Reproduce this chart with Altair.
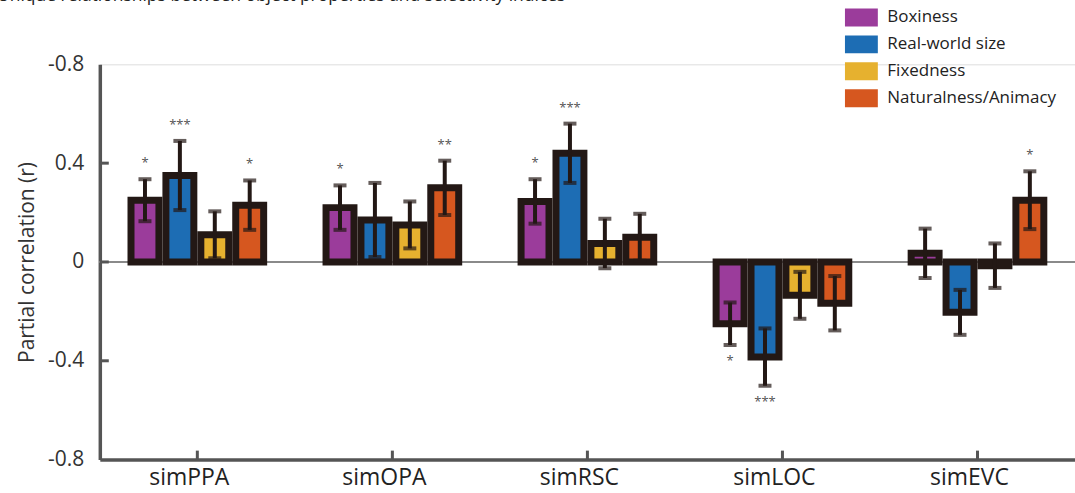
import altair as alt
import pandas as pd

# Regions of interest and object properties
regions = ["simPPA", "simOPA", "simRSC", "simLOC", "simEVC"]
properties = ["Boxiness", "Real-world size", "Fixedness", "Naturalness/Animacy"]
prop_colors = ["#9b3c9b", "#1d6db4", "#e6b12f", "#d6571f"]

# Partial correlations (one row per region, one column per property)
r_ppa = [0.25, 0.35, 0.11, 0.23]
r_opa = [0.22, 0.17, 0.15, 0.30]
r_rsc = [0.245, 0.44, 0.075, 0.10]
r_loc = [-0.25, -0.385, -0.135, -0.167]
r_evc = [0.035, -0.204, -0.015, 0.25]

# Standard errors
se_ppa = [0.085, 0.14, 0.095, 0.10]
se_opa = [0.09, 0.15, 0.095, 0.11]
se_rsc = [0.09, 0.12, 0.10, 0.095]
se_loc = [0.086, 0.116, 0.095, 0.11]
se_evc = [0.10, 0.091, 0.09, 0.117]

# Significance markers
sig_ppa = ["*", "***", "", "*"]
sig_opa = ["*", "", "", "**"]
sig_rsc = ["*", "***", "", ""]
sig_loc = ["*", "***", "", ""]
sig_evc = ["", "", "", "*"]

# Axis ticks and their printed labels
y_tick_values = [0.8, 0.4, 0.0, -0.4, -0.8]
y_tick_labels = ["-0.8", "0.4", "0", "-0.4", "-0.8"]

title_text = "Unique relationships between object properties and selectivity indices"

rows = []
for reg, rs, ses, sigs in zip(
    regions,
    [r_ppa, r_opa, r_rsc, r_loc, r_evc],
    [se_ppa, se_opa, se_rsc, se_loc, se_evc],
    [sig_ppa, sig_opa, sig_rsc, sig_loc, sig_evc],
):
    for prop, r, se, sig in zip(properties, rs, ses, sigs):
        rows.append({"region": reg, "property": prop, "r": r,
                     "lo": r - se, "hi": r + se, "sig": sig})
df = pd.DataFrame(rows)
ticks_df = pd.DataFrame({"v": [v for v in y_tick_values if abs(v) < 0.7]})
regions_df = pd.DataFrame({"region": regions})
title_df = pd.DataFrame({"t": [title_text]})

label_expr = " : ".join(
    f"abs(datum.value - ({v})) < 0.01 ? '{lab}'" for v, lab in zip(y_tick_values, y_tick_labels)
) + " : ''"

W, H = 977, 396
ink = "#231815"
axis_gray = "#555555"
font = "Open Sans"

x_scale = alt.Scale(domain=regions, paddingInner=0.284, paddingOuter=0.142)
y_scale = alt.Scale(domain=[-0.8, 0.8], nice=False, zero=False)
x_off = alt.XOffset("property:N", sort=properties,
                    scale=alt.Scale(paddingInner=0.2, paddingOuter=0.1))

x_enc = alt.X("region:N", sort=regions, scale=x_scale,
              axis=alt.Axis(title=None, labelAngle=0, ticks=False,
                            labelFontSize=23, labelColor="#222222", labelFont=font,
                            labelPadding=7, labelOffset=-8,
                            domainColor=axis_gray, domainWidth=3.5))
y_axis = alt.Axis(title="Partial correlation (r)", values=y_tick_values, labelExpr=label_expr,
                  ticks=False, grid=False, labelFontSize=21, labelColor="#333333",
                  labelFont=font, labelPadding=16, domainColor=axis_gray, domainWidth=3.5,
                  titleFontSize=21, titleFontWeight="normal", titleColor="#333333",
                  titleFont=font, titlePadding=10)

base = alt.Chart(df)

zero_line = base.mark_rule(color="#8a8a8a", strokeWidth=1.3).encode(
    y=alt.datum(0, scale=y_scale, axis=y_axis, type="quantitative")
)

bars = base.mark_bar(stroke=ink, strokeWidth=7, strokeJoin="miter").encode(
    x=x_enc,
    xOffset=x_off,
    y=alt.Y("r:Q", scale=y_scale, axis=y_axis),
    fill=alt.Fill("property:N", sort=properties,
                  scale=alt.Scale(domain=properties, range=prop_colors),
                  legend=alt.Legend(title=None, orient="none", legendX=754, legendY=-56,
                                    symbolType="M-1.83,-1H1.83V1H-1.83Z", symbolSize=324,
                                    symbolStrokeWidth=0, symbolOpacity=1,
                                    labelFontSize=17, labelColor="#222222", labelFont=font,
                                    labelOffset=17, labelLimit=400, rowPadding=9)),
)

stems = base.mark_rule(color=ink, strokeWidth=4).encode(
    x=alt.X("region:N", sort=regions, scale=x_scale),
    xOffset=x_off,
    y=alt.Y("lo:Q", scale=y_scale),
    y2="hi:Q",
)
cap_lo = base.mark_tick(color=ink, size=13, thickness=4, orient="horizontal").encode(
    x=alt.X("region:N", sort=regions, scale=x_scale),
    xOffset=x_off,
    y=alt.Y("lo:Q", scale=y_scale),
)
cap_hi = base.mark_tick(color=ink, size=13, thickness=4, orient="horizontal").encode(
    x=alt.X("region:N", sort=regions, scale=x_scale),
    xOffset=x_off,
    y=alt.Y("hi:Q", scale=y_scale),
)

stars_up = base.transform_filter("datum.r >= 0").mark_text(
    fontSize=13, color="#555555", font=font, baseline="middle", dy=-16
).encode(
    x=alt.X("region:N", sort=regions, scale=x_scale),
    xOffset=x_off,
    y=alt.Y("hi:Q", scale=y_scale),
    text="sig:N",
)
stars_down = base.transform_filter("datum.r < 0").mark_text(
    fontSize=13, color="#555555", font=font, baseline="middle", dy=16
).encode(
    x=alt.X("region:N", sort=regions, scale=x_scale),
    xOffset=x_off,
    y=alt.Y("lo:Q", scale=y_scale),
    text="sig:N",
)

# inward tick marks on both axes
y_ticks = alt.Chart(ticks_df).mark_rule(color=axis_gray, strokeWidth=3).encode(
    y=alt.Y("v:Q", scale=y_scale), x=alt.value(0), x2=alt.value(9)
)
x_ticks = alt.Chart(regions_df).mark_rule(color=axis_gray, strokeWidth=3).encode(
    x=alt.X("region:N", sort=regions, scale=x_scale), y=alt.value(H), y2=alt.value(H - 9)
)

# figure heading, running off the top of the page
heading = alt.Chart(title_df).mark_text(
    align="left", baseline="alphabetic", fontSize=17.5, color="#222222", font=font
).encode(x=alt.value(-103), y=alt.value(-63), text="t:N")

chart = alt.layer(
    zero_line, bars, stems, cap_lo, cap_hi, stars_up, stars_down, y_ticks, x_ticks, heading
).properties(
    width=W, height=H,
    autosize=alt.AutoSizeParams(type="none"),
    padding={"left": 100, "top": 64, "right": 0, "bottom": 33},
).configure_view(stroke=None).configure(background="white")

chart.save("out.html", embed_options={"renderer": "svg", "actions": False})
